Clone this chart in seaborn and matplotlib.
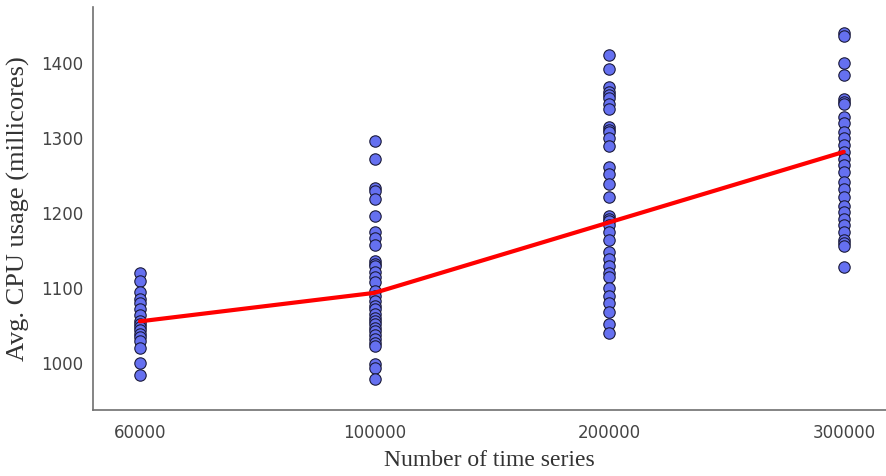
import matplotlib
matplotlib.use("Agg")
import matplotlib.pyplot as plt
import seaborn as sns
import pandas as pd

categories = ["60000", "100000", "200000", "300000"]

cpu_60000 = [1120, 1110, 1095, 1086, 1080, 1072, 1065, 1056, 1052, 1048, 1044,
             1039, 1035, 1030, 1021, 1001, 984]
cpu_100000 = [1296, 1273, 1234, 1230, 1219, 1197, 1175, 1167, 1158, 1137, 1133,
              1130, 1122, 1115, 1108, 1097, 1090, 1083, 1077, 1072, 1066, 1061,
              1056, 1052, 1047, 1043, 1038, 1032, 1027, 1023, 999, 994, 979]
cpu_200000 = [1411, 1393, 1369, 1362, 1358, 1354, 1346, 1339, 1315, 1311, 1309,
              1301, 1290, 1262, 1253, 1239, 1222, 1197, 1193, 1190, 1184, 1175,
              1164, 1148, 1139, 1130, 1121, 1115, 1101, 1090, 1081, 1068, 1052,
              1041]
cpu_300000 = [1440, 1437, 1400, 1384, 1353, 1349, 1346, 1329, 1320, 1309, 1300,
              1291, 1282, 1273, 1264, 1255, 1242, 1233, 1222, 1210, 1202, 1193,
              1184, 1175, 1164, 1160, 1157, 1128]
mean_cpu = [1056, 1094, 1188, 1282]

groups = [cpu_60000, cpu_100000, cpu_200000, cpu_300000]
points = pd.DataFrame({
    "series": [c for c, g in zip(categories, groups) for _ in g],
    "cpu": [v for g in groups for v in g],
})
means = pd.DataFrame({"series": categories, "cpu": mean_cpu})

sns.set_theme(style="white")
plt.rcParams["font.family"] = ["DejaVu Sans"]

fig = plt.figure(figsize=(8.86, 4.76), dpi=100)
ax = fig.add_axes([0.105, 0.139, 0.895, 0.846])

sns.stripplot(data=points, x="series", y="cpu", order=categories, jitter=False,
              color="#6570F0", edgecolor="#1a1a3a", linewidth=0.8, size=8.2,
              ax=ax, zorder=2)
sns.pointplot(data=means, x="series", y="cpu", order=categories, color="red",
              markers="", linewidth=3, errorbar=None, ax=ax)
for ln in ax.lines:
    ln.set_zorder(3)

ax.set_xlim(-0.2, 3.18)
ax.set_ylim(938, 1475)
ax.set_yticks([1000, 1100, 1200, 1300, 1400])

ax.set_xlabel("Number of time series", family="Liberation Serif", fontsize=17,
              color="#333333", labelpad=6)
ax.set_ylabel("Avg. CPU usage (millicores)", family="Liberation Serif",
              fontsize=19, color="#333333", labelpad=8)

ax.tick_params(axis="both", length=0, labelsize=12, labelcolor="#444444")
ax.tick_params(axis="x", pad=10)
ax.tick_params(axis="y", pad=7)

for s in ["top", "right"]:
    ax.spines[s].set_visible(False)
for s in ["left", "bottom"]:
    ax.spines[s].set_color("#707070")
    ax.spines[s].set_linewidth(1.2)

fig.savefig("out.png", dpi=100)
